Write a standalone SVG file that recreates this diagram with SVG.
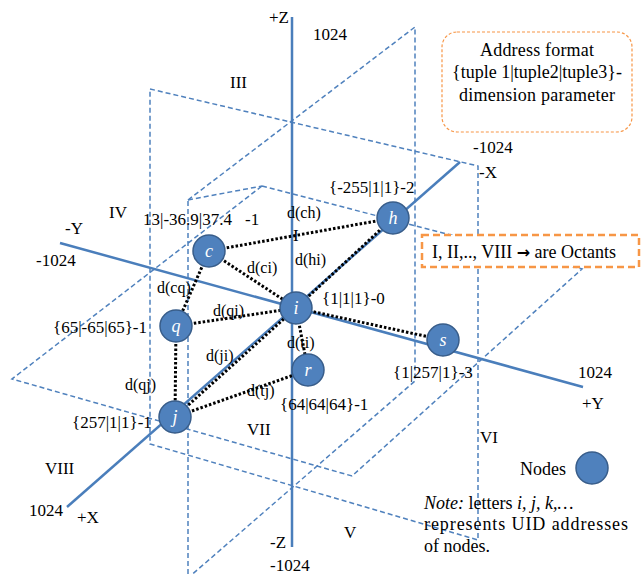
<svg xmlns="http://www.w3.org/2000/svg" width="641" height="574" viewBox="0 0 641 574">
<style>
.plane{fill:none;stroke:#4f81bd;stroke-width:1.5;stroke-dasharray:5 3}
.axis{stroke:#4a7ebb;stroke-width:2.5;fill:none}
.dot{stroke:#000;stroke-width:3;stroke-dasharray:2.5 2;fill:none}
.node{fill:#4f81bd;stroke:#385d8a;stroke-width:1.5}
.nl{font-family:"Liberation Serif",serif;font-style:italic;font-size:18px;fill:#fff;text-anchor:middle}
.t{font-family:"Liberation Serif",serif;font-size:17px;fill:#000}
.d{font-family:"Liberation Serif",serif;font-size:16px;fill:#000}
.lg{font-family:"Liberation Serif",serif;font-size:18px;fill:#000}
</style>
<rect width="641" height="574" fill="#fff"/>
<g id="planes">
<polygon class="plane" points="150,89 478,166 478,540 150,444"/>
<polygon class="plane" points="188,200 415,27 415,381 188,578"/>
<polyline class="plane" points="188,200 262,186"/>
<polygon class="plane" points="262,186 582,269 352,476 12,379"/>
</g>
<g id="axes">
<line class="axis" x1="292" y1="17" x2="292" y2="547"/>
<line class="axis" x1="67" y1="507" x2="460" y2="162"/>
<line class="axis" x1="60" y1="243" x2="583" y2="387"/>
</g>
<g id="connectors">
<line class="dot" x1="209" y1="251" x2="393" y2="218"/>
<line class="dot" x1="209" y1="251" x2="296" y2="308"/>
<line class="dot" x1="209" y1="251" x2="176" y2="326"/>
<line class="dot" x1="176" y1="326" x2="296" y2="308"/>
<line class="dot" x1="176" y1="326" x2="175" y2="417"/>
<line class="dot" x1="175" y1="417" x2="296" y2="308"/>
<line class="dot" x1="393" y1="218" x2="296" y2="308"/>
<line class="dot" x1="296" y1="308" x2="443" y2="340"/>
<line class="dot" x1="296" y1="308" x2="308" y2="370"/>
<line class="dot" x1="175" y1="417" x2="308" y2="370"/>
</g>
<g id="node-c"><circle class="node" cx="209" cy="251" r="16"/><text class="nl" x="209" y="257">c</text></g>
<g id="node-h"><circle class="node" cx="393" cy="218" r="16"/><text class="nl" x="393" y="224">h</text></g>
<g id="node-i"><circle class="node" cx="296" cy="308" r="16"/><text class="nl" x="296" y="314">i</text></g>
<g id="node-q"><circle class="node" cx="176" cy="326" r="16"/><text class="nl" x="176" y="332">q</text></g>
<g id="node-j"><circle class="node" cx="175" cy="417" r="16"/><text class="nl" x="175" y="423">j</text></g>
<g id="node-r"><circle class="node" cx="308" cy="370" r="16"/><text class="nl" x="308" y="376">r</text></g>
<g id="node-s"><circle class="node" cx="443" cy="340" r="16"/><text class="nl" x="443" y="346">s</text></g>
<g id="labels">
<text class="t" x="269" y="23">+Z</text>
<text class="t" x="313" y="40">1024</text>
<text class="t" x="230" y="88">III</text>
<text class="t" x="473" y="153">-1024</text>
<text class="t" x="479" y="178">-X</text>
<text class="t" x="329" y="193">{-255|1|1}-2</text>
<text class="t" x="109" y="218">IV</text>
<text class="t" x="65" y="234">-Y</text>
<text class="t" x="36" y="266">-1024</text>
<text class="t" x="143" y="225">13|-36.9|37.4</text>
<text class="t" x="245" y="225">-1</text>
<text class="t" x="293" y="241">I</text>
<text class="t" x="53" y="333">{65|-65|65}-1</text>
<text class="t" x="322" y="304">{1|1|1}-0</text>
<text class="t" x="280" y="410">{64|64|64}-1</text>
<text class="t" x="393" y="378">{1|257|1}-3</text>
<text class="t" x="578" y="378">1024</text>
<text class="t" x="582" y="409">+Y</text>
<text class="t" x="72" y="428">{257|1|1}-1</text>
<text class="t" x="247" y="435">VII</text>
<text class="t" x="480" y="443">VI</text>
<text class="t" x="45" y="474">VIII</text>
<text class="t" x="29" y="516">1024</text>
<text class="t" x="77" y="523">+X</text>
<text class="t" x="344" y="538">V</text>
<text class="t" x="270" y="548">-Z</text>
<text class="t" x="270" y="571">-1024</text>
<text class="d" x="287" y="218">d(ch)</text>
<text class="d" x="295" y="265">d(hi)</text>
<text class="d" x="247" y="273">d(ci)</text>
<text class="d" x="157" y="293">d(cq)</text>
<text class="d" x="213" y="316">d(qi)</text>
<text class="d" x="287" y="348">d(ti)</text>
<text class="d" x="206" y="361">d(ji)</text>
<text class="d" x="125" y="390">d(qj)</text>
<text class="d" x="247" y="396">d(tj)</text>
</g>
<g id="legend-address">
<rect x="442" y="32" width="190" height="100" rx="15" fill="none" stroke="#f79646" stroke-width="1.2" stroke-dasharray="3 2"/>
<text class="lg" x="537" y="56" text-anchor="middle" textLength="114">Address format</text>
<text class="lg" x="537" y="78" text-anchor="middle">{tuple 1|tuple2|tuple3}-</text>
<text class="lg" x="537" y="101" text-anchor="middle" textLength="156">dimension parameter</text>
</g>
<g id="legend-octants">
<rect x="422" y="235" width="217" height="32" fill="#fff" stroke="#f79646" stroke-width="2.5" stroke-dasharray="7 4"/>
<text class="lg" x="432" y="258">I, II,.., VIII <tspan font-weight="bold" font-family="DejaVu Sans, sans-serif" font-size="16">→</tspan> are Octants</text>
</g>
<g id="legend-nodes">
<text class="lg" x="520" y="475">Nodes</text>
<circle class="node" cx="592" cy="468" r="16"/>
</g>
<g id="note">
<text class="lg" x="424" y="509"><tspan font-style="italic">Note:</tspan> letters <tspan font-style="italic">i, j, k,…</tspan></text>
<text class="lg" x="424" y="530" textLength="204">represents UID addresses</text>
<text class="lg" x="424" y="552">of nodes.</text>
</g>
</svg>
